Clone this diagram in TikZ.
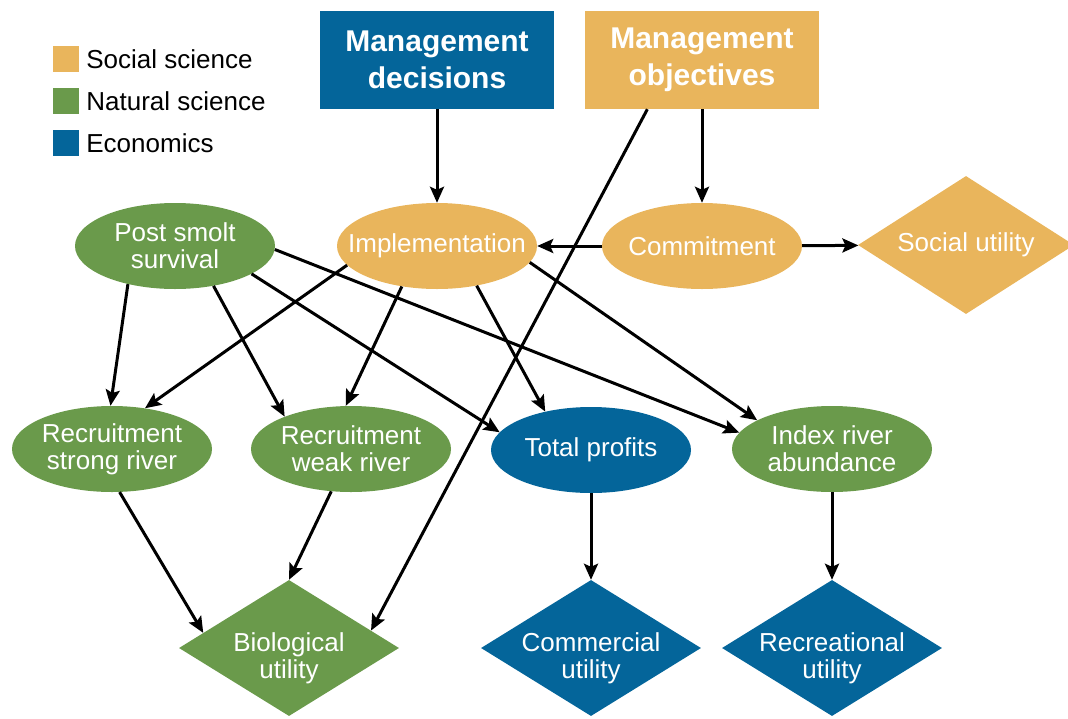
\documentclass[tikz,border=0pt]{standalone}
\usepackage{fontspec}
\setmainfont{Liberation Sans}
\usetikzlibrary{shapes.geometric,positioning,arrows.meta}
\definecolor{socsci}{RGB}{233,181,92}
\definecolor{natsci}{RGB}{106,154,75}
\definecolor{econ}{RGB}{4,101,154}

\begin{document}
\begin{tikzpicture}[x=1pt,y=-1pt,
    legendkey/.style={rectangle,minimum size=26pt,inner sep=0pt},
    legendtext/.style={inner sep=0pt,font=\fontsize{26}{27}\selectfont},
    decision/.style={rectangle,minimum width=234pt,minimum height=98pt,text=white,align=center,font=\fontsize{30}{37}\selectfont\bfseries},
    chance/.style={ellipse,minimum width=200pt,minimum height=86pt,inner xsep=-30pt,inner ysep=-10pt,text=white,align=center,font=\fontsize{26}{27}\selectfont},
    utility/.style={diamond,shape aspect=1.6,inner sep=-10pt,minimum width=220pt,minimum height=136pt,text=white,align=center,font=\fontsize{26}{27}\selectfont},
    lowtext/.style={text height=67pt},
    influence/.style={-{Stealth[length=16pt,width=14pt,inset=3pt]},line width=3pt}]
  \useasboundingbox (0,0) rectangle (1068,718);

  % legend
  \foreach \col/\lab [count=\i] in {socsci/Social science,natsci/Natural science,econ/Economics}{
    \node[legendkey,fill=\col] (k\i) at (66,{17+42*\i}) {};
    \node[legendtext,right=7pt of k\i] (l\i) {\lab};
  }

  \node[decision,fill=econ] (md) at (437,60) {Management\\decisions};
  \node[decision,fill=socsci] (mo) at (702,60) {Management\\objectives};

  \node[chance,fill=natsci] (ps) at (175,246) {Post smolt\\survival};
  \node[chance,fill=socsci] (im) at (437,246) {Implementation};
  \node[chance,fill=socsci] (cm) at (702,246) {Commitment};
  \node[utility,fill=socsci,minimum width=216pt,minimum height=138pt] (su) at (966,245) {Social utility};

  \node[chance,fill=natsci] (rs) at (112,449) {Recruitment\\strong river};
  \node[chance,fill=natsci] (rw) at (351,449) {Recruitment\\weak river};
  \node[chance,fill=econ] (tp) at (591,450) {Total profits};
  \node[chance,fill=natsci] (ir) at (832,449) {Index river\\abundance};

  \node[utility,lowtext,fill=natsci] (bu) at (289,648) {Biological\\utility};
  \node[utility,lowtext,fill=econ] (cu) at (591,648) {Commercial\\utility};
  \node[utility,lowtext,fill=econ] (ru) at (832,648) {Recreational\\utility};

  \foreach \a/\b in {md/im,mo/cm,cm/im,cm/su,tp/cu,ir/ru}
    \draw[influence] (\a) -- (\b);
  % crossing links, ends picked by angle
  \foreach \a/\b in {ps.-141/rs.92,ps.-46/rw.154,ps.-20/tp.169,ps.-2/ir.170,
                     im.-168/rs.51,im.-131/rw.97,im.-45/tp.140,im.-10/ir.159,
                     mo.-138/bu.12,rs.-80/bu.170,rw.-115/bu.north}
    \draw[influence] (\a) -- (\b);
\end{tikzpicture}
\end{document}
